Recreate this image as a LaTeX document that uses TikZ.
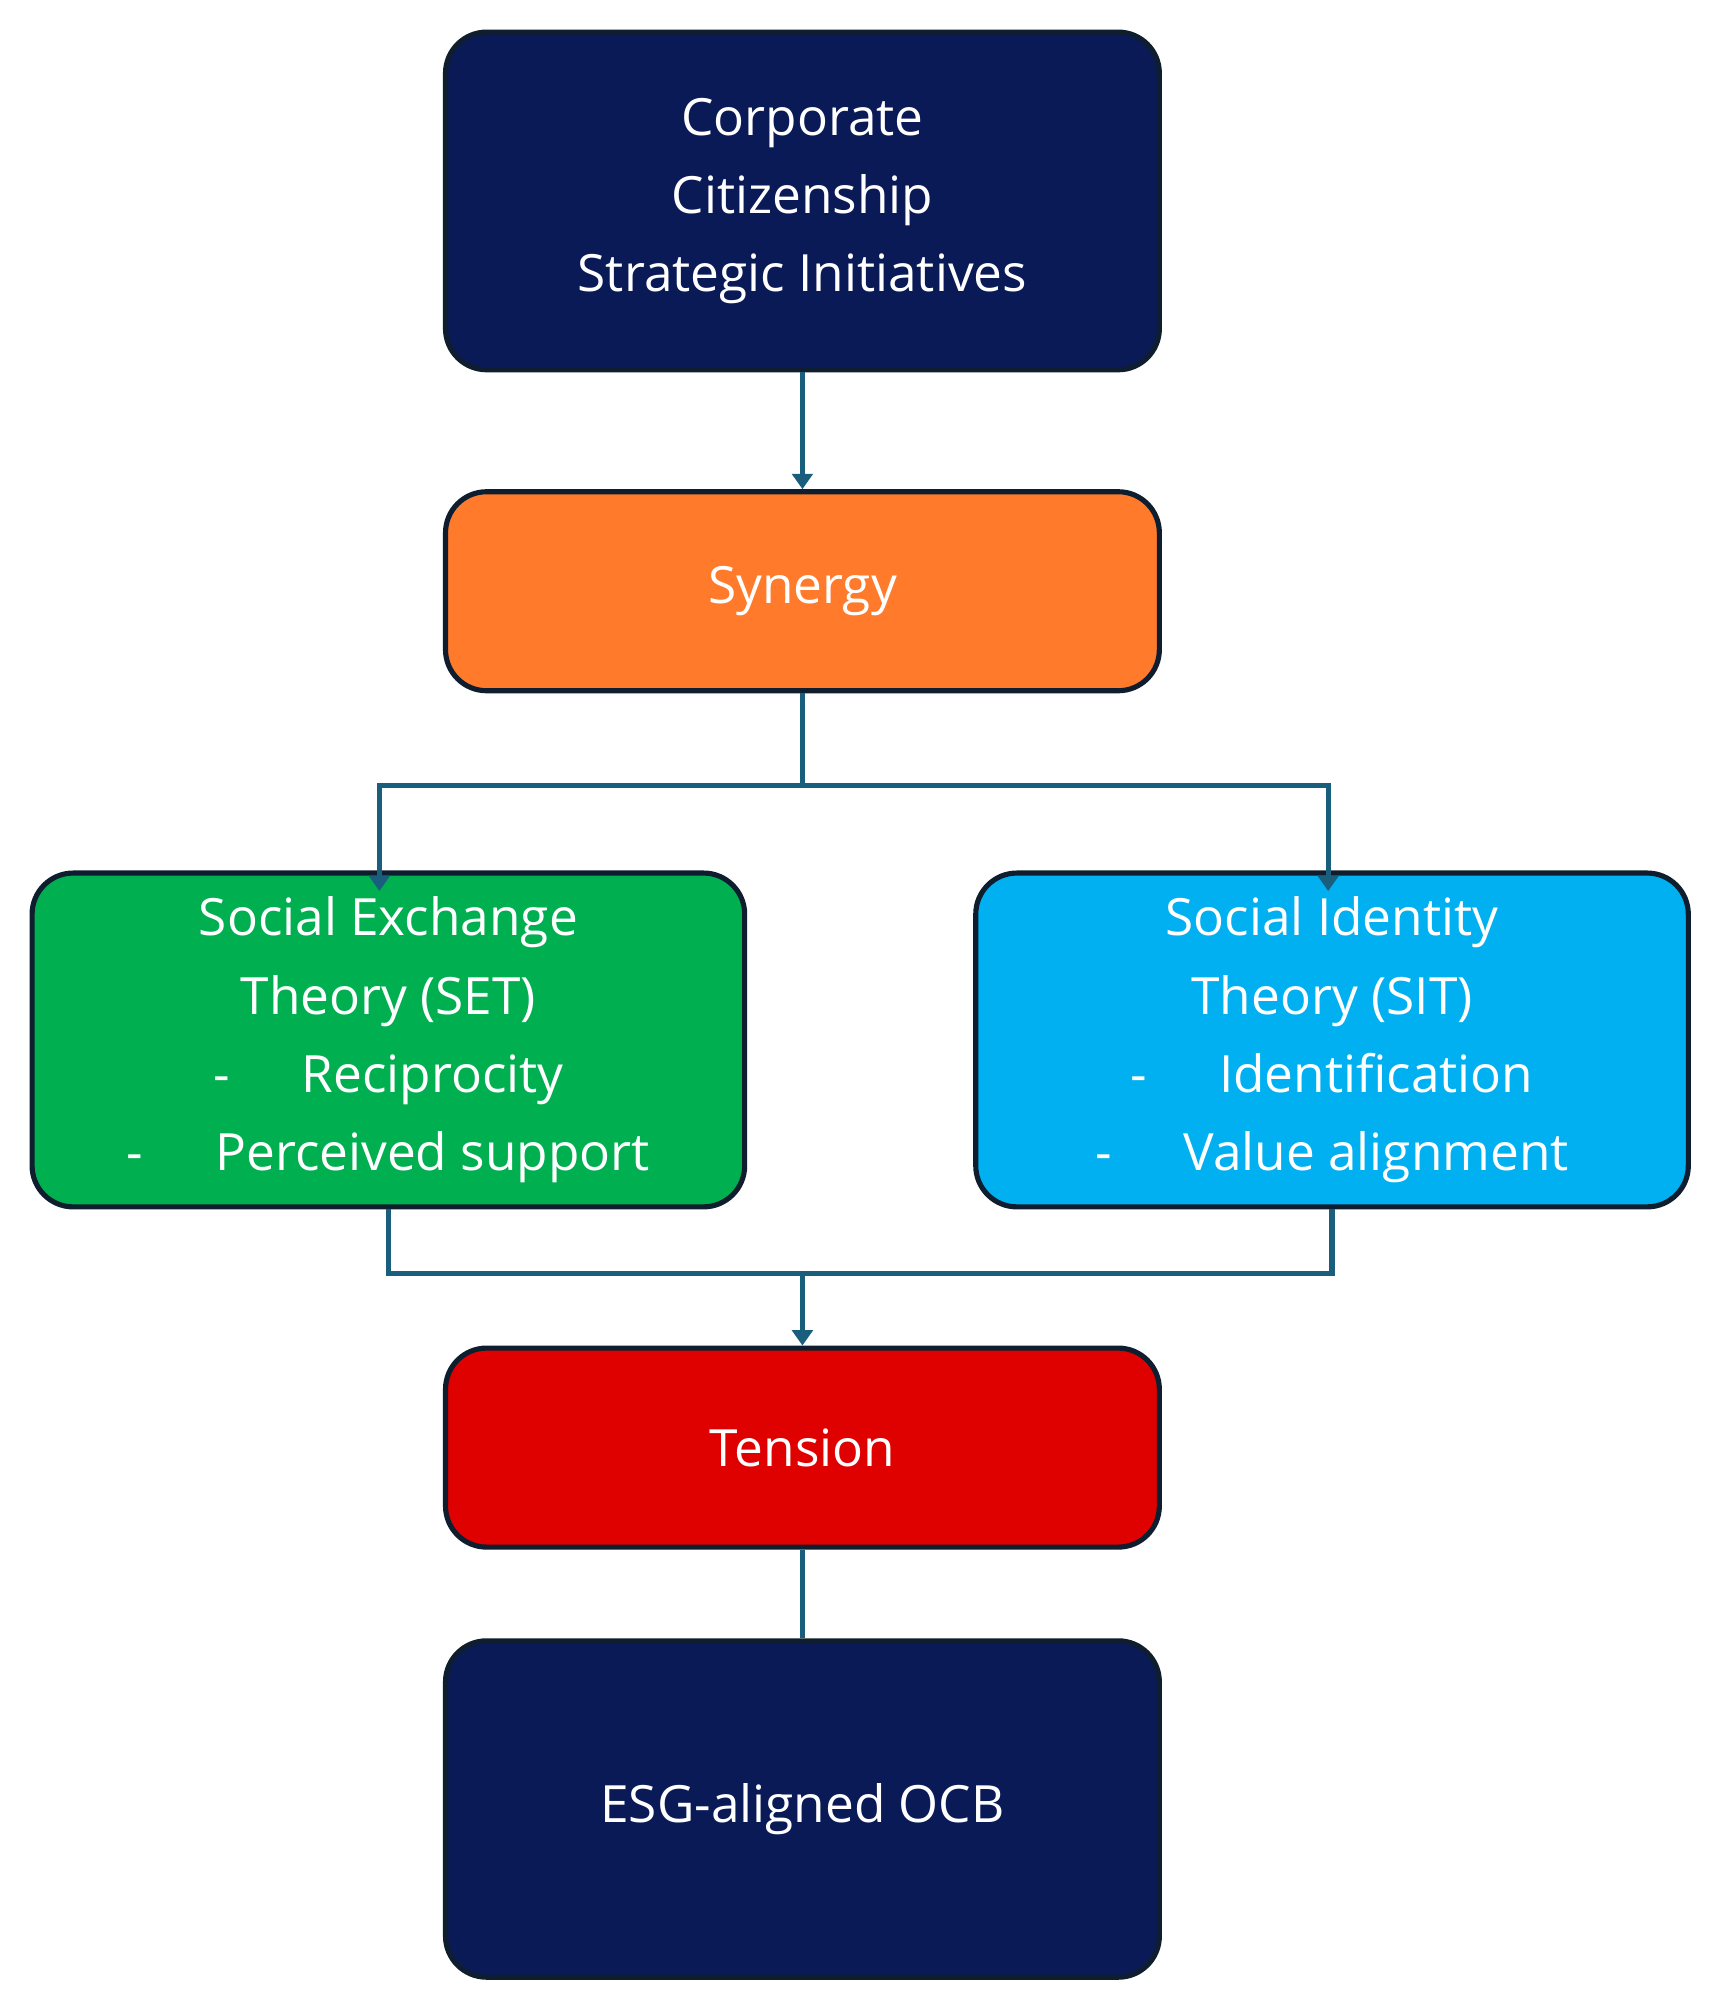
\documentclass[tikz,border=0pt]{standalone}
\usepackage{fontspec}
\setmainfont{Open Sans}
\usetikzlibrary{arrows.meta}
\definecolor{navy}{HTML}{0A1A57}
\definecolor{edge}{HTML}{0F1E2E}
\definecolor{org}{HTML}{FF7A2A}
\definecolor{grn}{HTML}{00B050}
\definecolor{cyn}{HTML}{00B0F0}
\definecolor{rd}{HTML}{DF0000}
\definecolor{ln}{HTML}{1A5E7E}
\begin{document}
\begin{tikzpicture}[x=1pt,y=-1pt,
 box/.style={draw=edge,line width=4pt,rounded corners=32pt,text=white,align=center,font=\fontsize{40}{61}\selectfont,inner sep=0pt},
 con/.style={draw=ln,line width=4pt},
 arr/.style={con,-{Triangle[width=16pt,length=12pt]}}]
\useasboundingbox (0,0) rectangle (1340,1564);
\fill[white] (0,0) rectangle (1340,1564);
\node[box,fill=navy,minimum width=556pt,minimum height=263pt] (top) at (625,156.5) {Corporate\\Citizenship\\Strategic Initiatives};
\node[box,fill=org,minimum width=556pt,minimum height=155pt] (syn) at (625,460.5) {Synergy};
\node[box,fill=grn,minimum width=555pt,minimum height=260pt] (set) at (302.5,810) {Social Exchange\\Theory (SET)\\-\hspace{1.4em}Reciprocity\\-\hspace{1.4em}Perceived support};
\node[box,fill=cyn,minimum width=555pt,minimum height=260pt] (sit) at (1037.5,810) {Social Identity\\Theory (SIT)\\-\hspace{1.4em}Identification\\-\hspace{1.4em}Value alignment};
\node[box,fill=rd,minimum width=556pt,minimum height=155pt] (ten) at (625,1127.5) {Tension};
\node[box,fill=navy,minimum width=556pt,minimum height=262pt] (esg) at (625,1409) {ESG-aligned OCB};
\coordinate (sp) at (625,612);
\coordinate (jn) at (625,992);
\draw[arr] (top.south) -- (syn.north);
\draw[con] (syn.south) -- (sp);
\draw[arr] (sp) -| ([xshift=-7pt,yshift=-16pt]set.north);
\draw[arr] (sp) -| ([xshift=-3pt,yshift=-16pt]sit.north);
\draw[con] (set.south) |- (jn) -| (sit.south);
\draw[arr] (jn) -- (ten.north);
\draw[con] (ten.south) -- (esg.north);
\end{tikzpicture}
\end{document}
